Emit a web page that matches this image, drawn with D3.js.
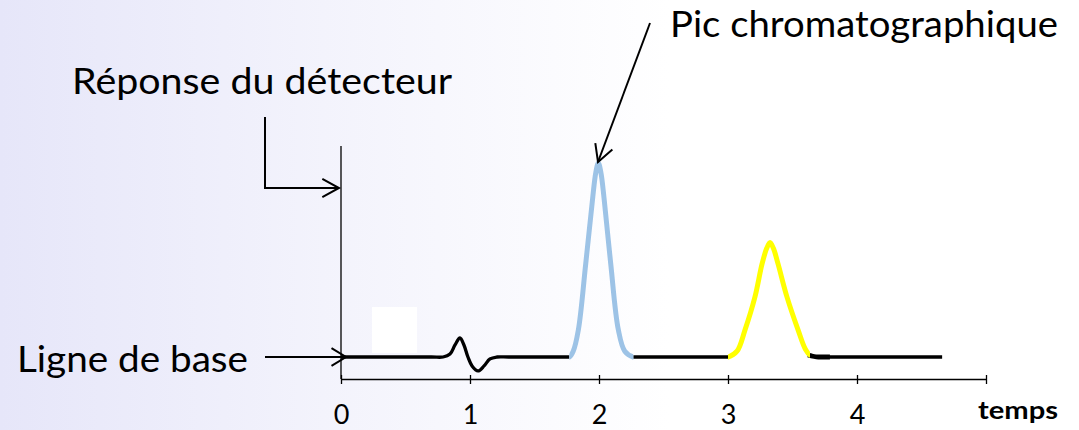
<!DOCTYPE html>
<html><head><meta charset="utf-8">
<script src="https://cdn.jsdelivr.net/npm/d3@7"></script>
<style>html,body{margin:0;padding:0;overflow:hidden;background:#fff}</style>
</head><body>
<svg id="c" width="1079" height="430"></svg>
<script>
// ---- data ----
const tickValues = [0, 1, 2, 3, 4, 5];
const tickLabels = ["0", "1", "2", "3", "4", ""];
const xTitle = "temps";
const yTitle = "Réponse du détecteur";
const peakLabel = "Pic chromatographique";
const baseLabel = "Ligne de base";

// baseline + disturbance near t = 1 (black)
const seg1T = [0, 0.70, 0.791, 0.845, 0.884, 0.922, 0.953, 0.984, 1.016, 1.062, 1.109, 1.155, 1.209, 1.30, 1.77];
const seg1V = [0, 0, 0, 1.5, 6.2, 9.8, 6.2, 0, -4.6, -7.2, -4.6, -1, 0, 0, 0];
// first chromatographic peak (blue)
const peak1T = [1.74, 1.77, 1.80, 1.84, 1.897, 1.951, 1.975, 1.995, 2.015, 2.039, 2.091, 2.150, 2.20, 2.266, 2.30];
const peak1V = [0, 0, 3, 14, 48, 82, 95, 100, 95, 82, 48, 14, 3, 0, 0];
// baseline between peaks (black)
const seg2T = [2.266, 3.0];
const seg2V = [0, 0];
// second peak (yellow)
const peak2T = [2.95, 3.0, 3.07, 3.132, 3.209, 3.264, 3.30, 3.326, 3.352, 3.388, 3.457, 3.543, 3.60, 3.636, 3.70];
const peak2V = [0, 0, 3, 14, 31, 48, 56, 59, 56, 48, 31, 14, 4, 1, 0];
// tail (black)
const seg3T = [3.636, 3.70, 3.80, 4.66];
const seg3V = [1, 0, 0, 0];

const svg = d3.select("#c");
const W = 1079, H = 430;

// background gradient
const defs = svg.append("defs");
const grad = defs.append("linearGradient").attr("id", "bg").attr("x1", "0").attr("x2", "1").attr("y1", "0").attr("y2", "0");
grad.append("stop").attr("offset", "0").attr("stop-color", "#e6e6f9");
grad.append("stop").attr("offset", "0.3").attr("stop-color", "#f3f3fc");
grad.append("stop").attr("offset", "0.62").attr("stop-color", "#ffffff");
grad.append("stop").attr("offset", "1").attr("stop-color", "#ffffff");
svg.append("rect").attr("width", W).attr("height", H).attr("fill", "url(#bg)");

// scales
const x = d3.scaleLinear().domain([0, 5]).range([341, 986]);
const y = d3.scaleLinear().domain([0, 100]).range([357, 163]);
const axisY = 379;

// white box
svg.append("rect").attr("x", 372).attr("y", 307).attr("width", 45).attr("height", 46).attr("fill", "#ffffff");

// axes
const ff = "Lato, 'Open Sans', sans-serif";
const ax = d3.axisBottom(x).tickValues(tickValues).tickSize(0).tickFormat((d, i) => tickLabels[i]);
const gx = svg.append("g").attr("transform", `translate(0,${axisY})`).call(ax);
gx.select(".domain").attr("stroke", "#000").attr("stroke-width", 1.3);
gx.selectAll(".tick text").attr("font-family", ff).attr("font-size", 27).attr("fill", "#000").attr("dy", 0).attr("y", 45);
gx.selectAll(".tick").append("line").attr("y1", -4).attr("y2", 5).attr("stroke", "#000").attr("stroke-width", 1.3);

svg.append("line").attr("x1", x(0)).attr("x2", x(0)).attr("y1", 146).attr("y2", axisY)
  .attr("stroke", "#000").attr("stroke-width", 1.3);

// curves
const smooth = d3.line().x(d => x(d[0])).y(d => y(d[1])).curve(d3.curveCatmullRom.alpha(0.5));
const mono = d3.line().x(d => x(d[0])).y(d => y(d[1])).curve(d3.curveMonotoneX);
function seg(T, V, color, w, gen, from, to) {
  const pts = T.map((t, i) => [t, V[i]]);
  const p = svg.append("path").datum(pts).attr("d", gen)
    .attr("fill", "none").attr("stroke", color).attr("stroke-width", w)
    .attr("stroke-linecap", "butt").attr("stroke-linejoin", "round");
  if (from !== undefined) {
    const id = "clip" + Math.round(from * 1000);
    defs.append("clipPath").attr("id", id).append("rect")
      .attr("x", x(from)).attr("y", 0).attr("width", x(to) - x(from)).attr("height", H);
    p.attr("clip-path", `url(#${id})`);
  }
}
seg(seg1T, seg1V, "#000", 3.3, smooth);
seg(seg2T, seg2V, "#000", 3.3, mono);
seg(seg3T, seg3V, "#000", 3.3, mono);
seg([3.62, 3.70, 3.79], [1, 0, 0], "#000", 4.8, mono);
seg(peak1T, peak1V, "#9dc3e6", 5, smooth, 1.77, 2.266);
seg(peak2T, peak2V, "#ffff00", 5, smooth, 3.0, 3.636);

// arrows
function chevron(tipX, tipY, ang, len, spread) {
  const a1 = ang + Math.PI - spread, a2 = ang + Math.PI + spread;
  return `M${tipX + len * Math.cos(a1)},${tipY + len * Math.sin(a1)}L${tipX},${tipY}L${tipX + len * Math.cos(a2)},${tipY + len * Math.sin(a2)}`;
}
const arrowStyle = g => g.attr("fill", "none").attr("stroke", "#000").attr("stroke-width", 2);
svg.append("path").attr("d", `M265,117L265,188L339,188`).call(arrowStyle);
svg.append("path").attr("d", chevron(339, 188, 0, 19, 0.5)).call(arrowStyle);
svg.append("path").attr("d", `M265,357L345,357`).call(arrowStyle);
svg.append("path").attr("d", chevron(346, 357, 0, 17, 0.55)).call(arrowStyle);
const pa = Math.atan2(162 - 23, 598 - 650);
svg.append("path").attr("d", `M650,23L598,162`).call(arrowStyle);
svg.append("path").attr("d", chevron(598, 162, pa, 19, 0.5)).call(arrowStyle);

// texts
function label(txt, x0, base, size, width, weight) {
  svg.append("text").attr("x", x0).attr("y", base).attr("font-family", ff).attr("font-size", size)
    .attr("font-weight", weight || 400).attr("fill", "#000")
    .attr("textLength", width).attr("lengthAdjust", "spacingAndGlyphs").text(txt);
}
label(yTitle, 72, 94, 37, 380);
label(peakLabel, 670, 37, 37, 388);
label(baseLabel, 17, 372, 37, 231);
label(xTitle, 978, 419, 25, 80, 700);
</script>
</body></html>
